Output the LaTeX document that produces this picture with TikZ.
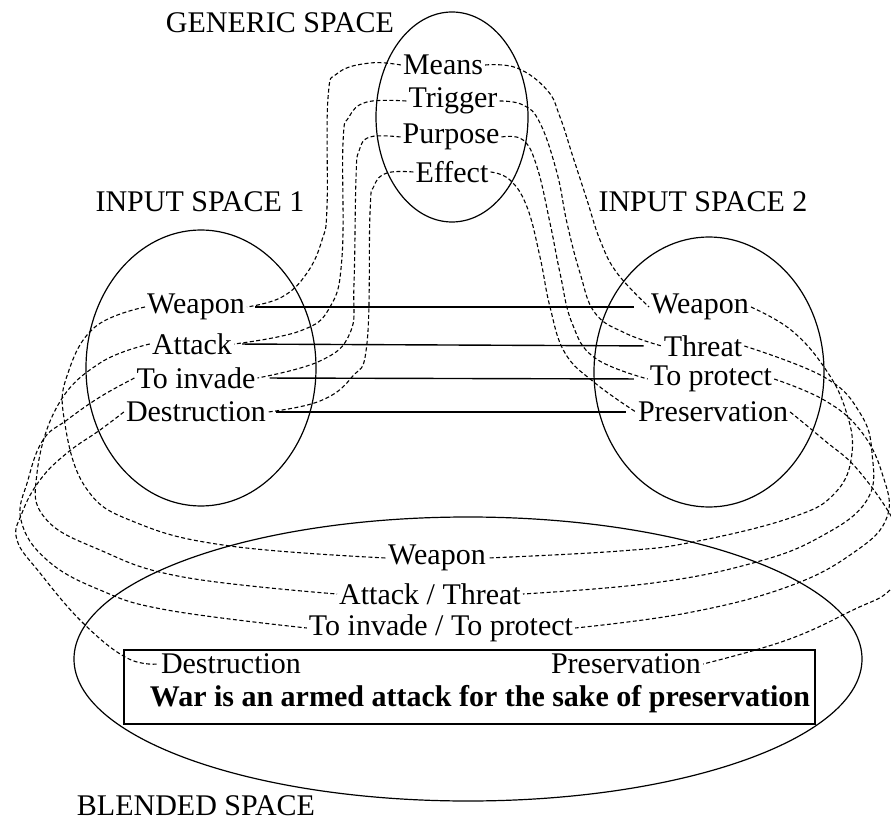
\documentclass[tikz,border=0pt]{standalone}
\usepackage{fontspec}
\setmainfont{Liberation Serif}

\begin{document}
\begin{tikzpicture}[x=1pt,y=1pt,
  lbl/.style={font=\fontsize{30}{32}\selectfont, inner sep=2pt},
  maplink/.style={color=black, line width=1.1pt, dash pattern=on 4pt off 2.5pt},
  crosslink/.style={color=black, line width=1.4pt}]
\clip (0,0) rectangle (891,823);
% the four spaces
\draw[color=black, line width=1.2pt] (452,706) ellipse (76 and 105);
\draw[color=black, line width=1.2pt] (201,455) ellipse (115 and 138);
\draw[color=black, line width=1.2pt] (709,451) ellipse (115 and 135);
\draw[color=black, line width=1.2pt] (468,164) ellipse (394 and 142);
\draw[color=black, line width=1.2pt] (124,99) rectangle (815,173);
% space names
\path (280,800) node[lbl] (gsp) {GENERIC SPACE};
\path (200,621) node[lbl] (isp1) {INPUT SPACE 1};
\path (703,621) node[lbl] (isp2) {INPUT SPACE 2};
\path (196,17) node[lbl] (bsp) {BLENDED SPACE};
% generic space
\path (443,758) node[lbl] (means) {Means};
\path (453,722) node[lbl] (trigger) {Trigger};
\path (451,686) node[lbl] (purpose) {Purpose};
\path (452,651) node[lbl] (effect) {Effect};
% input space 1
\path (196,516) node[lbl] (w1) {Weapon};
\path (192,479) node[lbl] (a1) {Attack};
\path (196,445) node[lbl] (i1) {To invade};
\path (196,411) node[lbl] (d1) {Destruction};
% input space 2
\path (700,516) node[lbl] (w2) {Weapon};
\path (703,477) node[lbl] (t2) {Threat};
\path (711,444) node[lbl] (p2) {To protect};
\path (713,411) node[lbl] (s2) {Preservation};
% blended space
\path (437,265) node[lbl] (wb) {Weapon};
\path (430,229) node[lbl] (ab) {Attack / Threat};
\path (441,195) node[lbl] (ib) {To invade / To protect};
\path (231,159) node[lbl] (db) {Destruction};
\path (626,159) node[lbl] (sb) {Preservation};
\path (480,124) node[lbl] (war) {\textbf{War is an armed attack for the sake of preservation}};
% cross-space mapping
\draw[crosslink, shorten <=8pt, shorten >=15pt] (w1.east) -- (w2.west);
\draw[crosslink, shorten <=8pt, shorten >=18pt] (a1.east) -- (t2.west);
\draw[crosslink, shorten <=12pt, shorten >=14pt] (i1.east) -- (p2.west);
\draw[crosslink, shorten <=8pt, shorten >=10pt] (d1.east) -- (s2.west);
% generic to input 1
\draw[maplink] plot[smooth, tension=0.7] coordinates {(means.west) (370,760) (338,750) (328,725) (327,616) (322,583) (307,550) (282,526) (w1.east)};
\draw[maplink] plot[smooth, tension=0.7] coordinates {(trigger.west) (367,721) (349,706) (343,680) (342,566) (330,516) (300,492) (a1.east)};
\draw[maplink] plot[smooth, tension=0.7] coordinates {(purpose.west) (370,686) (359,672) (356,645) (354,540) (350,490) (320,462) (i1.east)};
\draw[maplink] plot[smooth, tension=0.7] coordinates {(effect.west) (387,650) (374,637) (370,610) (367,480) (352,446) (320,422) (d1.east)};
% generic to input 2
\draw[maplink] plot[smooth, tension=0.7] coordinates {(means.east) (517,755) (547,733) (560,706) (573,666) (587,623) (600,583) (617,550) (w2.west)};
\draw[maplink] plot[smooth, tension=0.7] coordinates {(trigger.east) (523,718) (540,700) (557,650) (567,600) (580,550) (595,510) (625,490) (t2.west)};
\draw[maplink] plot[smooth, tension=0.7] coordinates {(purpose.east) (523,683) (537,656) (550,600) (560,550) (572,500) (595,465) (p2.west)};
\draw[maplink] plot[smooth, tension=0.7] coordinates {(effect.east) (510,643) (527,616) (540,566) (550,516) (565,470) (595,440) (s2.west)};
% input 1 to blend
\draw[maplink] plot[smooth, tension=0.7] coordinates {(w1.west) (95,496) (68,450) (64,405) (86,335) (137,300) (230,277) (wb.west)};
\draw[maplink] plot[smooth, tension=0.7] coordinates {(a1.west) (100,460) (58,418) (37,350) (45,305) (100,273) (183,246) (ab.west)};
\draw[maplink] plot[smooth, tension=0.7] coordinates {(i1.west) (100,426) (67,403) (43,383) (28,343) (21,303) (47,263) (100,233) (167,213) (ib.west)};
\draw[maplink] plot[smooth, tension=0.7] coordinates {(d1.west) (100,393) (67,370) (40,343) (22,310) (17,283) (40,250) (83,200) (127,165) (db.west)};
% input 2 to blend
\draw[maplink] plot[smooth, tension=0.7] coordinates {(w2.east) (791,493) (824,456) (845,415) (852,370) (835,330) (790,305) (693,281) (620,272) (wb.east)};
\draw[maplink] plot[smooth, tension=0.7] coordinates {(t2.east) (824,446) (860,410) (872,370) (867,323) (820,286) (753,260) (653,240) (ab.east)};
\draw[maplink] plot[smooth, tension=0.7] coordinates {(p2.east) (824,423) (860,393) (882,350) (887,306) (853,270) (787,236) (687,210) (ib.east)};
\draw[maplink] plot[smooth, tension=0.7] coordinates {(s2.east) (824,383) (858,353) (895,300) (905,265) (890,233) (853,213) (787,183) (sb.east)};
\end{tikzpicture}
\end{document}
